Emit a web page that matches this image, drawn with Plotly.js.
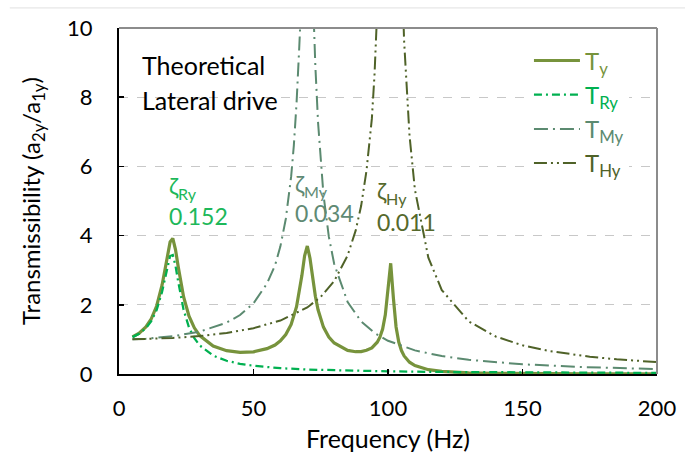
<!DOCTYPE html>
<html>
<head>
<meta charset="utf-8">
<script src="https://cdn.plot.ly/plotly-3.0.1.min.js"></script>
<style>html,body{margin:0;padding:0;background:#fff;}#chart{width:685px;height:459px;}</style>
</head>
<body>
<div id="chart"></div>
<script>
// Frequency (Hz) and transmissibility values
const tyFreq = [5,7.5,10,12,14,16,17,18,19,20,21,22,23,24,26,28,30,35,40,45,50,55,58,60,62,64,66,67,68,69,70,71,72,73,74,76,78,80,85,88,90,92,94,96,97,98,99,100,101,102,103,104,105,106,108,110,115,120,130,140,150,175,200];
const tyVals = [1.074,1.181,1.363,1.596,1.965,2.565,2.975,3.439,3.816,3.920,3.595,3.110,2.637,2.234,1.677,1.335,1.110,0.806,0.673,0.625,0.641,0.732,0.837,0.958,1.140,1.432,1.945,2.341,2.851,3.416,3.700,3.348,2.762,2.247,1.854,1.355,1.070,0.896,0.681,0.644,0.648,0.685,0.756,0.919,1.063,1.301,1.710,2.479,3.200,2.199,1.360,0.924,0.677,0.521,0.341,0.242,0.125,0.075,0.034,0.018,0.011,0.004,0.002];

const ryFreq = [5,7.5,10,12,14,16,17,18,19,20,21,22,23,24,26,28,30,35,40,45,50,60,70,80,100,120,150,200];
const ryVals = [1.066,1.161,1.322,1.527,1.85,2.37,2.72,3.11,3.41,3.44,3.13,2.67,2.23,1.86,1.35,1.035,0.826,0.532,0.382,0.294,0.237,0.168,0.129,0.105,0.076,0.059,0.045,0.032];

const myFreq = [5,10,20,30,40,45,50,55,58,60,62,64,65,66,67,68,69,70,71,72,73,74,75,76,78,80,85,90,95,100,110,120,130,140,150,170,185,200];
const myVals = [1.005,1.021,1.089,1.225,1.485,1.704,2.042,2.613,3.14,3.69,4.48,5.71,6.61,7.82,9.43,11.5,13.77,14.7,13.41,11.0,8.89,7.27,6.08,5.19,3.97,3.18,2.08,1.52,1.186,0.961,0.683,0.518,0.411,0.336,0.281,0.207,0.170,0.142];

const hyFreq = [5,10,20,30,40,50,60,70,75,80,85,88,90,92,94,95,96,97,99,101,103,105,106,107,108,110,115,120,130,140,150,160,175,185,200];
const hyVals = [1.002,1.010,1.041,1.097,1.186,1.325,1.545,1.924,2.229,2.684,3.428,4.151,4.854,5.872,7.38,8.67,10.12,12.4,22.3,45.5,21.8,11.93,9.61,8.04,6.89,5.33,3.36,2.425,1.522,1.085,0.829,0.663,0.500,0.425,0.343];

const seriesNames = ["T<sub>y</sub>","T<sub>Ry</sub>","T<sub>My</sub>","T<sub>Hy</sub>"];
const seriesColors = ["#77933C","#00B050","#5B8A70","#4F6228"];

const dampLabels = ["ζ<sub>Ry</sub>","ζ<sub>My</sub>","ζ<sub>Hy</sub>"];
const dampValues = ["0.152","0.034","0.011"];
const dampColors = ["#1DB85A","#5F8A74","#55692C"];

const FONT = "Lato, 'Open Sans', sans-serif";

function legendName(i){
  return '<span style="color:' + seriesColors[i] + '">' + seriesNames[i] + '</span>';
}

const traces = [
  {x: tyFreq, y: tyVals, name: legendName(0), mode: "lines", legendgroup: "a",
   line: {color: seriesColors[0], width: 3.2}},
  {x: ryFreq, y: ryVals, name: legendName(1), mode: "lines", legendgroup: "b",
   line: {color: seriesColors[1], width: 2.25, dash: "8px,4px,2px,4px"}},
  {x: myFreq, y: myVals, name: legendName(2), mode: "lines", legendgroup: "c",
   line: {color: seriesColors[2], width: 2, dash: "14px,5px,2px,5px"}},
  {x: hyFreq, y: hyVals, name: legendName(3), mode: "lines", legendgroup: "d",
   line: {color: seriesColors[3], width: 2, dash: "13px,4px,2px,4px,2px,4px"}}
];

const dampPos = [[17.8, 5.4, 4.57],[64.7, 5.46, 4.65],[95.2, 5.26, 4.39]];
const annotations = [
  {x: 7.8, y: 8.93, xref: "x", yref: "y", text: "Theoretical", showarrow: false, xanchor: "left", yanchor: "middle",
   font: {family: FONT, size: 25, color: "#000"}},
  {x: 7.8, y: 7.92, xref: "x", yref: "y", text: "Lateral drive", showarrow: false, xanchor: "left", yanchor: "middle",
   font: {family: FONT, size: 25, color: "#000"}}
];
for (let i = 0; i < 3; i++) {
  annotations.push({x: dampPos[i][0], y: dampPos[i][1], xref: "x", yref: "y", text: dampLabels[i], showarrow: false,
    xanchor: "left", yanchor: "middle", font: {family: FONT, size: 23, color: dampColors[i]}});
  annotations.push({x: dampPos[i][0], y: dampPos[i][2], xref: "x", yref: "y", text: dampValues[i], showarrow: false,
    xanchor: "left", yanchor: "middle", font: {family: FONT, size: 23, color: dampColors[i]}});
}

const layout = {
  width: 685, height: 459,
  margin: {l: 119, r: 28, t: 28, b: 85},
  paper_bgcolor: "#fff", plot_bgcolor: "#fff",
  font: {family: FONT, size: 20, color: "#000"},
  showlegend: true,
  legend: {x: 0.762, y: 0.97, xanchor: "left", yanchor: "top", bgcolor: "#fff",
    font: {family: FONT, size: 24}, itemwidth: 46, tracegroupgap: 0, traceorder: "grouped"},
  xaxis: {range: [0, 200], dtick: 50, tick0: 0, showgrid: false, zeroline: false,
    showline: true, linecolor: "#000", linewidth: 2, ticks: "inside", ticklen: 5, tickcolor: "#000", tickwidth: 1.5,
    ticklabelstandoff: 14, tickfont: {family: FONT, size: 22},
    title: {text: "Frequency (Hz)", font: {family: FONT, size: 25}, standoff: 10}},
  yaxis: {range: [0, 10], dtick: 2, tick0: 0, showgrid: true, gridcolor: "#c8c8c8", griddash: "dash", gridwidth: 1,
    zeroline: false, showline: true, linecolor: "#000", linewidth: 2, ticks: "inside", ticklen: 5, tickcolor: "#000", tickwidth: 1.5,
    ticklabelstandoff: 20, tickfont: {family: FONT, size: 22},
    title: {text: "Transmissibility (a<sub>2y</sub>/a<sub>1y</sub>)", font: {family: FONT, size: 24}, standoff: 20}},
  annotations: annotations,
  shapes: [
    {type: "line", xref: "paper", yref: "paper", x0: 0, x1: 1, y0: 1, y1: 1, line: {color: "#8c8c8c", width: 2}},
    {type: "line", xref: "paper", yref: "paper", x0: 1, x1: 1, y0: 0, y1: 1, line: {color: "#8c8c8c", width: 2}},
    {type: "line", xref: "paper", yref: "paper", x0: -0.203, x1: 1.06, y0: 1.058, y1: 1.058, line: {color: "#e0e0e0", width: 1}}
  ]
};

Plotly.newPlot("chart", traces, layout, {displayModeBar: false, staticPlot: true});
</script>
</body>
</html>
